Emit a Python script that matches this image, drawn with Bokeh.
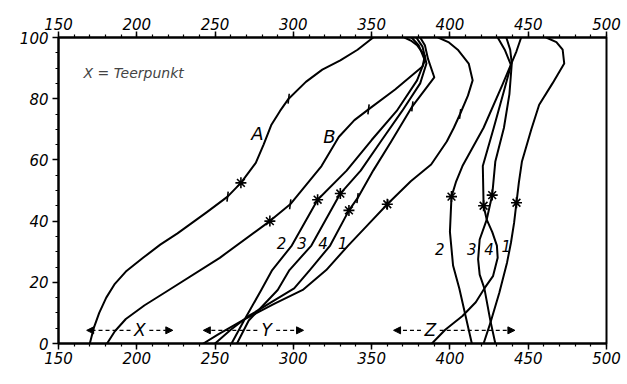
from bokeh.plotting import figure
from bokeh.models import Range1d, LinearAxis, SingleIntervalTicker, Label, Arrow, NormalHead
from bokeh.embed import file_html
from bokeh.resources import INLINE
from bokeh.core.properties import value

FONT = "DejaVu Sans"

# Distillation curves: temperature in °C against % of total distillate
a_temp = [170, 172.5, 176, 180.5, 186, 193, 204, 215, 226, 245, 258, 266.5, 276, 281, 286, 291.5, 297, 308, 318.5, 330, 341, 351]
a_pct = [0, 5, 10, 15, 19.5, 23.5, 28, 32.3, 36, 43, 48, 52.5, 59, 65, 71.5, 76, 80, 85.5, 89.5, 92.5, 96, 100]

b_temp = [181, 186, 193, 205, 219, 253, 285, 298, 318, 329, 339, 348, 365, 382.5, 384, 379, 375, 371]
b_pct = [0, 4, 8, 12.5, 17, 28, 40, 45.5, 58, 67.5, 73, 76.5, 83, 90.5, 94, 97.5, 99, 100]

# group Y, curves 1-4
y1_temp = [242.5, 252, 269, 288, 306, 321, 335, 348, 360, 375, 388, 398, 402.5, 406.5, 411.5, 414.5, 412, 405, 399, 392.5]
y1_pct = [0, 3, 8, 13, 17.5, 24, 32, 39, 45.5, 53, 58.5, 66, 70.5, 75, 81, 86, 91.5, 96, 98.5, 100]

y2_temp = [260.5, 268.5, 279.5, 286.5, 299, 315.5, 334, 350, 366, 379, 384, 380, 375.5]
y2_pct = [0, 7.5, 17.5, 24, 32, 47, 56.5, 66.5, 76, 86, 92.5, 97.5, 100]

y3_temp = [264, 271.5, 290, 297.5, 311.5, 330, 343, 356.5, 369.5, 381, 385, 382.5, 378.5]
y3_pct = [0, 7.5, 17.5, 24, 32, 49, 56.5, 66.5, 76, 85, 91.5, 97, 100]

y4_temp = [250, 260, 271.5, 286, 300.5, 310.5, 323.5, 335.5, 341, 351, 362.5, 376, 390, 386, 384, 381]
y4_pct = [0, 4.5, 9, 13.5, 18, 24, 32, 43.5, 47.5, 56.5, 66, 77.5, 87, 93, 97.5, 100]

# group Z, curves 1-4
z1_temp = [421.5, 426, 431.5, 436.5, 439, 441, 442.5, 444, 446, 452, 457, 465.5, 473, 472, 468, 461.5]
z1_pct = [0, 7, 16.5, 26.5, 33, 39.5, 46, 52.5, 59.5, 70, 78, 85, 91.5, 96, 98.5, 100]

z2_temp = [414, 410, 406, 402, 400, 401, 404, 408, 421.5, 433.5, 438, 442.5, 445.5]
z2_pct = [0, 9, 18, 25.5, 36.5, 48, 53, 58, 70.5, 84.5, 90, 95.5, 100]

z3_temp = [429, 426, 422, 419, 418, 419, 423.5, 427, 429, 434.5, 438, 439.5, 438.5, 436]
z3_pct = [0, 7, 18, 22.5, 27.5, 34, 40.5, 48.5, 59.5, 70.5, 81.5, 91.5, 96, 100]

z4_temp = [388.5, 397, 408, 416.5, 422, 427.5, 430.5, 430, 427, 423.5, 421.5, 421, 428, 434.5, 439, 435, 430.5]
z4_pct = [0, 4.5, 9, 13.5, 18, 22, 28, 32, 36.5, 40.5, 45, 58, 70.5, 82.5, 91, 96, 100]

# tar points (stars) and short cross strokes on the curves
star_temp = [266.5, 285, 315.5, 330, 335.5, 360, 401, 421.5, 427, 442.5]
star_pct = [52.5, 40, 47, 49, 43.5, 45.5, 48, 45, 48.5, 46]
tick_temp = [258, 297, 298, 348, 341, 376, 360, 406.5]
tick_pct = [48, 80, 45.5, 76.5, 47.5, 77.5, 45.5, 75]

# curve names
big_names = ["A", "B"]
big_name_temp = [277, 323]
big_name_pct = [68.5, 67.5]
num_names = ["2", "3", "4", "1", "2", "3", "4", "1"]
num_name_temp = [292.5, 305.5, 319, 331.5, 393.5, 414, 425, 436]
num_name_pct = [33, 33, 33, 33, 31, 31, 31, 32]

# boiling ranges X, Y, Z
range_names = ["X", "Y", "Z"]
range_lo = [168, 242.5, 364]
range_hi = [223, 306.5, 441.5]
range_mid = [202, 283, 387.5]
range_pct = 4.3

p = figure(width=627, height=384, x_range=Range1d(150, 500), y_range=Range1d(0, 100),
           output_backend="svg", toolbar_location=None,
           min_border_left=58, min_border_right=21, min_border_top=37, min_border_bottom=41)
p.xgrid.visible = False
p.ygrid.visible = False
p.outline_line_color = "black"
p.outline_line_width = 2
p.outline_line_alpha = 1.0
p.background_fill_color = "white"
p.border_fill_color = "white"

top_axis = LinearAxis()
p.add_layout(top_axis, "above")


def style_axis(ax, interval, minor):
    ax.ticker = SingleIntervalTicker(interval=interval, num_minor_ticks=minor)
    ax.axis_line_width = 2
    ax.axis_line_color = "black"
    ax.major_tick_out = 6
    ax.major_tick_in = 0
    ax.minor_tick_out = 3
    ax.minor_tick_in = 0
    ax.major_tick_line_width = 1.5
    ax.minor_tick_line_width = 1.2
    ax.major_tick_line_color = "black"
    ax.minor_tick_line_color = "black"
    ax.major_label_text_font = FONT
    ax.major_label_text_font_style = "italic"
    ax.major_label_text_font_size = "15px"
    ax.major_label_text_color = "black"
    ax.major_label_standoff = 2


for ax in p.xaxis:
    style_axis(ax, 50, 5)
for ax in p.yaxis:
    style_axis(ax, 20, 4)
    ax.major_label_standoff = 4

curves = [(a_temp, a_pct), (b_temp, b_pct),
          (y1_temp, y1_pct), (y2_temp, y2_pct), (y3_temp, y3_pct), (y4_temp, y4_pct),
          (z1_temp, z1_pct), (z2_temp, z2_pct), (z3_temp, z3_pct), (z4_temp, z4_pct)]
for t, pct in curves:
    p.line(t, pct, line_color="black", line_width=2, line_join="round", line_cap="round")

p.scatter(star_temp, star_pct, marker="asterisk", size=11, line_color="black", line_width=1.6)
p.scatter(tick_temp, tick_pct, marker="dash", size=10, angle=1.45, line_color="black", line_width=1.6)

p.text(big_name_temp, big_name_pct, text=big_names, text_font=value(FONT), text_font_style="italic",
       text_font_size="18px", text_align="center", text_baseline="middle", text_color="black")
p.text(num_name_temp, num_name_pct, text=num_names, text_font=value(FONT), text_font_style="italic",
       text_font_size="15px", text_align="center", text_baseline="middle", text_color="black")
p.text(range_mid, [range_pct] * 3, text=range_names, text_font=value(FONT), text_font_style="italic",
       text_font_size="17px", text_align="center", text_baseline="middle", text_color="black")

gap = 6
for lo, hi, mid in zip(range_lo, range_hi, range_mid):
    for start, end in ((mid - gap, lo), (mid + gap, hi)):
        p.add_layout(Arrow(end=NormalHead(size=7, fill_color="black", line_color="black", line_width=1),
                           x_start=start, y_start=range_pct, x_end=end, y_end=range_pct,
                           line_color="black", line_width=1.3, line_dash="4 3"))

p.add_layout(Label(x=166, y=88.5, text="X = Teerpunkt", text_font=FONT, text_font_style="italic",
                   text_font_size="14px", text_align="left", text_baseline="middle"))

p.add_layout(Label(x=323, y=-32, y_units="screen", text="Temperatur in °C", text_font=FONT,
                   text_font_style="italic", text_font_size="16px", text_align="center",
                   text_baseline="middle"))
p.add_layout(Label(x=-42, x_units="screen", y=50, text="% Gesamtdestillat", text_font=FONT,
                   text_font_style="italic", text_font_size="19px", text_align="center",
                   text_baseline="middle", angle=1.5708))

open("out.html", "w").write(file_html(p, INLINE))
